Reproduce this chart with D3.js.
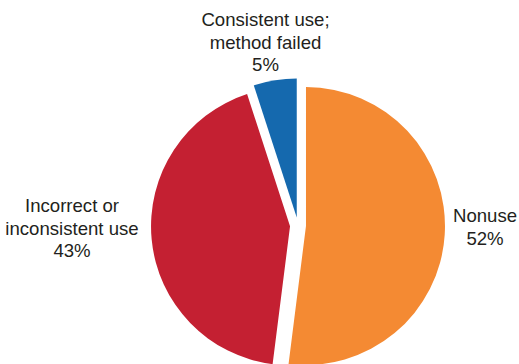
<!DOCTYPE html>
<html><head><meta charset="utf-8">
<script src="https://cdn.jsdelivr.net/npm/d3@7"></script>
<style>body{margin:0;background:#fff}svg{display:block}</style>
</head><body>
<script>
const categories = ["Nonuse", "Incorrect or inconsistent use", "Consistent use; method failed"];
const values = [52, 43, 5];
const labelLines = [["Nonuse", "52%"], ["Incorrect or", "inconsistent use", "43%"], ["Consistent use;", "method failed", "5%"]];
const colors = ["#F48A33", "#C42032", "#1569AE"];

const W = 519, H = 364;
const cx = 298, cy = 225.5, R = 139, explode = 8;
const svg = d3.select("body").append("svg").attr("width", W).attr("height", H);

const pie = d3.pie().sort(null).value(d => d)(values);
const arc = d3.arc().innerRadius(0).outerRadius(R);
const g = svg.append("g").attr("transform", `translate(${cx},${cy})`);
g.selectAll("path").data(pie).join("path")
  .attr("d", arc)
  .attr("fill", (d, i) => colors[i])
  .attr("transform", d => {
    const a = (d.startAngle + d.endAngle) / 2;
    return `translate(${explode * Math.sin(a)},${-explode * Math.cos(a)})`;
  });

const labelPos = [[485, 222], [72, 212], [265.5, 26]];
const lh = 22.5;
labelLines.forEach((lines, i) => {
  const t = svg.append("text").attr("text-anchor", "middle")
    .attr("font-family", "Liberation Sans, Arial, sans-serif")
    .attr("font-size", 18.6).attr("fill", "#231f20");
  lines.forEach((l, j) => {
    t.append("tspan").attr("x", labelPos[i][0]).attr("y", labelPos[i][1] + j * lh).text(l);
  });
});
</script>
</body></html>
